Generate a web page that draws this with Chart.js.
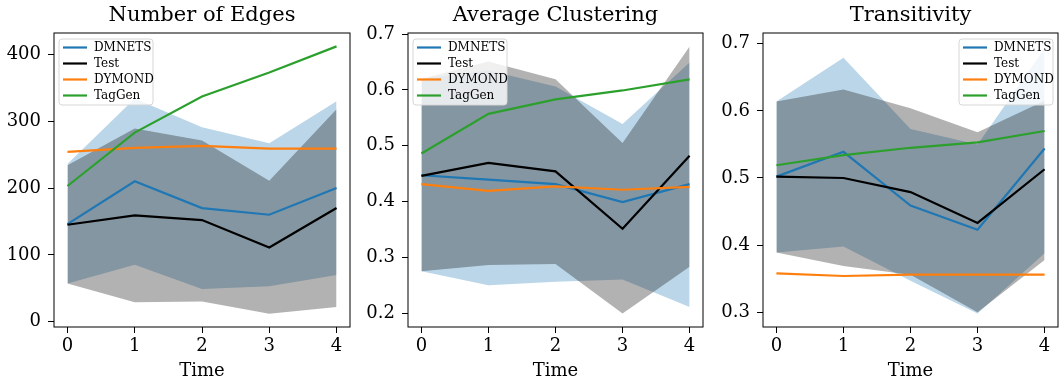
<!DOCTYPE html>
<html>
<head>
<meta charset="utf-8">
<script src="https://cdn.jsdelivr.net/npm/chart.js@4.4.1/dist/chart.umd.min.js"></script>
<style>
  html, body { margin: 0; padding: 0; background: #fff; }
  #wrap { position: relative; width: 1061px; height: 383px; }
  .panel { position: absolute; top: 0; height: 383px; }
</style>
</head>
<body>
<div id="wrap">
  <div class="panel" style="left:0;width:355px"><canvas id="edgesChart"></canvas></div>
  <div class="panel" style="left:355px;width:353px"><canvas id="clusteringChart"></canvas></div>
  <div class="panel" style="left:708px;width:353px"><canvas id="transitivityChart"></canvas></div>
</div>
<script>
const times = [0, 1, 2, 3, 4];
const seriesNames = ['DMNETS', 'Test', 'DYMOND', 'TagGen'];
const seriesColors = ['#1f77b4', '#000000', '#ff7f0e', '#2ca02c'];

// Number of Edges
const edgesDmnets = [146, 210, 170, 160, 200];
const edgesTest = [145, 159, 152, 111, 170];
const edgesDymond = [254, 260, 263, 259, 259];
const edgesTaggen = [203, 283, 337, 373, 412];
const edgesDmnetsHi = [236, 334, 291, 267, 330];
const edgesDmnetsLo = [57, 85, 49, 53, 70];
const edgesTestHi = [234, 289, 271, 211, 318];
const edgesTestLo = [57, 29, 30, 12, 22];
const edgesTicks = [0, 100, 200, 300, 400];

// Average Clustering
const clusDmnets = [0.447, 0.439, 0.431, 0.399, 0.431];
const clusTest = [0.446, 0.469, 0.454, 0.351, 0.482];
const clusDymond = [0.431, 0.419, 0.427, 0.421, 0.426];
const clusTaggen = [0.486, 0.557, 0.583, 0.599, 0.619];
const clusDmnetsHi = [0.620, 0.635, 0.606, 0.539, 0.649];
const clusDmnetsLo = [0.275, 0.250, 0.256, 0.260, 0.211];
const clusTestHi = [0.620, 0.651, 0.619, 0.505, 0.678];
const clusTestLo = [0.275, 0.286, 0.288, 0.199, 0.283];
const clusTicks = [0.2, 0.3, 0.4, 0.5, 0.6, 0.7];

// Transitivity
const transDmnets = [0.502, 0.539, 0.459, 0.423, 0.544];
const transTest = [0.502, 0.500, 0.479, 0.433, 0.513];
const transDymond = [0.358, 0.354, 0.356, 0.356, 0.356];
const transTaggen = [0.519, 0.534, 0.545, 0.553, 0.570];
const transDmnetsHi = [0.614, 0.679, 0.573, 0.550, 0.693];
const transDmnetsLo = [0.389, 0.398, 0.347, 0.298, 0.388];
const transTestHi = [0.614, 0.632, 0.604, 0.568, 0.615];
const transTestLo = [0.389, 0.369, 0.356, 0.300, 0.378];
const transTicks = [0.3, 0.4, 0.5, 0.6, 0.7];

const FONT = '"DejaVu Serif", serif';

function points(arr) {
    return times.map((t, i) => ({ x: t, y: arr[i] }));
}

// box around the plot area, like matplotlib spines
const frameBox = {
    id: 'frameBox',
    afterDraw(chart) {
        const a = chart.chartArea;
        const ctx = chart.ctx;
        ctx.save();
        ctx.strokeStyle = '#000';
        ctx.lineWidth = 1;
        ctx.strokeRect(a.left, a.top, a.right - a.left, a.bottom - a.top);
        ctx.restore();
    }
};

// legend drawn inside the plot area
const innerLegend = {
    id: 'innerLegend',
    afterDatasetsDraw(chart, args, opts) {
        const ctx = chart.ctx;
        const a = chart.chartArea;
        const w = 94, h = 66;
        const x = opts.corner === 'right' ? a.right - 5 - w : a.left + 5;
        const y = a.top + 6;
        ctx.save();
        ctx.beginPath();
        ctx.roundRect(x, y, w, h, 3);
        ctx.fillStyle = 'rgba(255,255,255,0.8)';
        ctx.fill();
        ctx.strokeStyle = '#d6d6d6';
        ctx.lineWidth = 1;
        ctx.stroke();
        ctx.font = '12px ' + FONT;
        ctx.textBaseline = 'middle';
        for (let i = 0; i < seriesNames.length; i++) {
            const cy = y + 8.5 + 16 * i;
            ctx.strokeStyle = seriesColors[i];
            ctx.lineWidth = 2.2;
            ctx.beginPath();
            ctx.moveTo(x + 4, cy);
            ctx.lineTo(x + 28, cy);
            ctx.stroke();
            ctx.fillStyle = '#000';
            ctx.fillText(seriesNames[i], x + 35, cy);
        }
        ctx.restore();
    }
};

function lineSet(label, arr, color) {
    return {
        label: label,
        data: points(arr),
        borderColor: color,
        borderWidth: 2.2,
        pointRadius: 0,
        fill: false,
        tension: 0
    };
}

function bandSet(arr, fillTo, color) {
    return {
        data: points(arr),
        borderWidth: 0,
        borderColor: 'rgba(0,0,0,0)',
        backgroundColor: color,
        pointRadius: 0,
        fill: fillTo,
        tension: 0
    };
}

function buildChart(canvasId, cfg) {
    // datasets listed top-most first: Chart.js paints the last one first
    const datasets = [
        lineSet('TagGen', cfg.taggen, seriesColors[3]),
        lineSet('DYMOND', cfg.dymond, seriesColors[2]),
        lineSet('Test', cfg.test, seriesColors[1]),
        lineSet('DMNETS', cfg.dmnets, seriesColors[0]),
        bandSet(cfg.testHi, '+1', 'rgba(0,0,0,0.3)'),
        bandSet(cfg.testLo, false, 'rgba(0,0,0,0)'),
        bandSet(cfg.dmnetsHi, '+1', 'rgba(31,119,180,0.3)'),
        bandSet(cfg.dmnetsLo, false, 'rgba(0,0,0,0)')
    ];

    new Chart(canvasId, {
        type: 'line',
        data: { datasets: datasets },
        options: {
            responsive: true,
            maintainAspectRatio: false,
            animation: false,
            layout: { padding: { right: cfg.padRight, top: 0, bottom: 0 } },
            plugins: {
                legend: { display: false },
                tooltip: { enabled: false },
                title: {
                    display: true,
                    text: cfg.title,
                    fullSize: false,
                    color: '#000',
                    font: { family: FONT, size: 21, weight: 'normal' },
                    padding: { top: 3, bottom: 4.8 }
                },
                innerLegend: { corner: cfg.corner }
            },
            scales: {
                x: {
                    type: 'linear',
                    min: -0.2,
                    max: 4.2,
                    afterBuildTicks: (scale) => { scale.ticks = times.map(v => ({ value: v })); },
                    afterFit: (scale) => { scale.height = 56; },
                    grid: { drawOnChartArea: false, drawTicks: true, tickLength: 6, color: '#000' },
                    border: { display: false },
                    ticks: {
                        color: '#000',
                        font: { family: FONT, size: 18 },
                        padding: 3,
                        maxRotation: 0
                    },
                    title: {
                        display: true,
                        text: 'Time',
                        color: '#000',
                        font: { family: FONT, size: 18 },
                        padding: { top: 0, bottom: 1 }
                    }
                },
                y: {
                    min: cfg.yMin,
                    max: cfg.yMax,
                    afterBuildTicks: (scale) => { scale.ticks = cfg.ticks.map(v => ({ value: v })); },
                    afterFit: (scale) => { scale.width = cfg.yWidth; },
                    grid: { drawOnChartArea: false, drawTicks: true, tickLength: 6, color: '#000' },
                    border: { display: false },
                    ticks: {
                        color: '#000',
                        font: { family: FONT, size: 18 },
                        padding: 7,
                        callback: cfg.fmt
                    }
                }
            }
        },
        plugins: [frameBox, innerLegend]
    });
}

buildChart('edgesChart', {
    title: 'Number of Edges',
    dmnets: edgesDmnets, test: edgesTest, dymond: edgesDymond, taggen: edgesTaggen,
    dmnetsHi: edgesDmnetsHi, dmnetsLo: edgesDmnetsLo, testHi: edgesTestHi, testLo: edgesTestLo,
    ticks: edgesTicks, yMin: -8, yMax: 432, yWidth: 54, padRight: 5, corner: 'left',
    fmt: (v) => String(v)
});

buildChart('clusteringChart', {
    title: 'Average Clustering',
    dmnets: clusDmnets, test: clusTest, dymond: clusDymond, taggen: clusTaggen,
    dmnetsHi: clusDmnetsHi, dmnetsLo: clusDmnetsLo, testHi: clusTestHi, testLo: clusTestLo,
    ticks: clusTicks, yMin: 0.175, yMax: 0.702, yWidth: 53, padRight: 5, corner: 'left',
    fmt: (v) => v.toFixed(1)
});

buildChart('transitivityChart', {
    title: 'Transitivity',
    dmnets: transDmnets, test: transTest, dymond: transDymond, taggen: transTaggen,
    dmnetsHi: transDmnetsHi, dmnetsLo: transDmnetsLo, testHi: transTestHi, testLo: transTestLo,
    ticks: transTicks, yMin: 0.278, yMax: 0.716, yWidth: 55, padRight: 3, corner: 'right',
    fmt: (v) => v.toFixed(1)
});
</script>
</body>
</html>
